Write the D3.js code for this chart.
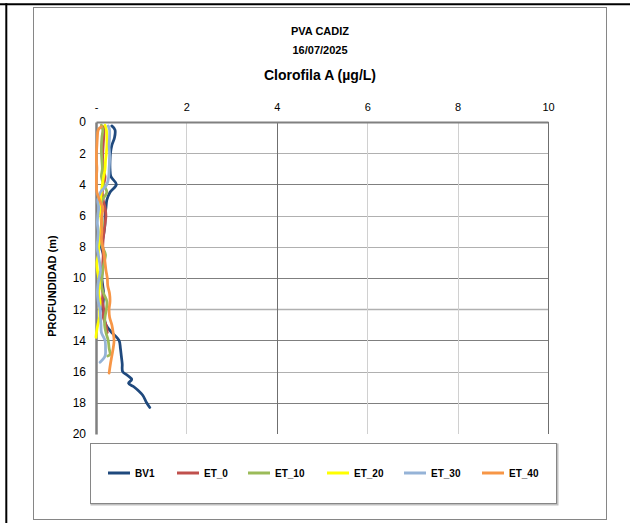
<!DOCTYPE html>
<html><head><meta charset="utf-8">
<script src="https://cdn.jsdelivr.net/npm/d3@7/dist/d3.min.js"></script>
<style>body{margin:0;background:#fff}svg{display:block;font-family:"Liberation Sans",Arial,sans-serif}</style>
</head><body>
<svg id="c" width="630" height="523"></svg>
<script>
const titleLines = ["PVA CADIZ", "16/07/2025"];
const chartTitle = "Clorofila A (µg/L)";
const yTitle = "PROFUNDIDAD (m)";
const xTicks = [0, 2, 4, 6, 8, 10];
const yTicks = [0, 2, 4, 6, 8, 10, 12, 14, 16, 18, 20];
const seriesNames = ["BV1", "ET_0", "ET_10", "ET_20", "ET_30", "ET_40"];
const seriesColors = ["#1F497D", "#C0504D", "#9BBB59", "#FFFF00", "#95B3D7", "#F79646"];

const depthBV1 = [0.25,0.5,1,1.5,2,2.5,3,3.5,4,4.5,5,5.5,6,6.5,7,7.5,8,8.5,9,9.5,10,10.5,11,11.5,12,12.5,13,13.5,14,14.5,15,15.5,16,16.25,16.5,16.75,17,17.5,18,18.3];
const valBV1   = [0.35,0.42,0.41,0.35,0.32,0.31,0.31,0.33,0.45,0.31,0.24,0.22,0.2,0.2,0.18,0.15,0.12,0.16,0.17,0.14,0.13,0.15,0.17,0.16,0.15,0.18,0.22,0.35,0.51,0.54,0.56,0.58,0.59,0.7,0.79,0.72,0.85,1.03,1.12,1.19];

const depthET0 = [0.3,1,2,3,3.5,4,4.5,5,5.5,6,6.5,7,7.5,8,8.5,9,9.5,10,10.5,11,11.5,12,12.5,13,13.5];
const valET0   = [0.18,0.17,0.15,0.15,0.2,0.17,0.14,0.16,0.2,0.22,0.2,0.18,0.16,0.15,0.16,0.15,0.14,0.12,0.13,0.15,0.14,0.17,0.16,0.22,0.25];

const depthET10 = [0.2,0.5,1,1.5,2,2.5,3,3.5,4,4.5,5,5.5,6,6.5,7,7.5,8,8.5,9,9.5,10,10.5,11,11.5,12,12.5,13,13.5,14,14.5,14.9,15.0];
const valET10   = [0.12,0.15,0.13,0.12,0.12,0.13,0.14,0.12,0.17,0.24,0.14,0.1,0.12,0.14,0.12,0.1,0.14,0.21,0.18,0.15,0.13,0.12,0.17,0.24,0.23,0.2,0.19,0.22,0.27,0.29,0.31,0.26];

const depthET20 = [0.2,0.5,1,1.5,2,2.5,3,3.5,4,4.5,5,5.5,6,6.5,7,7.5,8,8.5,9,9.5,10,10.5,11,11.5,12,12.5,13,13.5,13.8];
const valET20   = [0.2,0.23,0.24,0.24,0.23,0.21,0.2,0.17,0.14,0.12,0.1,0.08,0.1,0.12,0.1,0.08,0.06,0.05,0.02,0.03,0.06,0.08,0.06,0.09,0.08,0.08,0.04,0.01,0.0];

const depthET30 = [0.25,0.5,1,1.5,2,2.5,3,3.5,4,4.5,5,5.5,6,6.5,7,7.5,8,8.5,9,9.5,10,10.5,11,11.5,12,12.5,13,13.5,14,14.5,15,15.4];
const valET30   = [0.27,0.3,0.3,0.29,0.3,0.3,0.29,0.28,0.24,0.1,0.04,0.06,0.04,0.03,0.05,0.04,0.02,0.05,0.08,0.1,0.07,0.04,0.03,0.05,0.09,0.1,0.11,0.12,0.2,0.21,0.2,0.09];

const depthET40 = [0.3,0.5,1,1.5,2,2.5,3,3.5,4,4.5,5,5.5,6,6.5,7,7.5,8,8.5,9,9.5,10,10.5,11,11.5,12,12.5,13,13.5,14,14.5,15,15.5,16.1];
const valET40   = [0.12,0.05,0.03,0.02,0.01,0.01,0.02,0.01,0.01,0.02,0.08,0.15,0.13,0.12,0.13,0.12,0.15,0.18,0.2,0.22,0.25,0.26,0.3,0.31,0.29,0.3,0.35,0.38,0.4,0.38,0.35,0.32,0.29];

const series = [
  {name: seriesNames[0], color: seriesColors[0], depth: depthBV1, val: valBV1},
  {name: seriesNames[1], color: seriesColors[1], depth: depthET0, val: valET0},
  {name: seriesNames[2], color: seriesColors[2], depth: depthET10, val: valET10},
  {name: seriesNames[3], color: seriesColors[3], depth: depthET20, val: valET20},
  {name: seriesNames[4], color: seriesColors[4], depth: depthET30, val: valET30},
  {name: seriesNames[5], color: seriesColors[5], depth: depthET40, val: valET40}
];

const svg = d3.select("#c");
// page decorations
svg.append("line").attr("x1",0).attr("x2",630).attr("y1",4.3).attr("y2",4.3).attr("stroke","#000").attr("stroke-width",2);
svg.append("line").attr("x1",6.3).attr("x2",6.3).attr("y1",3.3).attr("y2",523).attr("stroke","#000").attr("stroke-width",2);
// chart frame
svg.append("rect").attr("x",33.5).attr("y",7.5).attr("width",573).attr("height",512).attr("fill","#fff").attr("stroke","#868686").attr("stroke-width",1);

// titles
svg.append("text").attr("x",320).attr("y",35).attr("text-anchor","middle").attr("font-weight","bold").attr("font-size",11).text(titleLines[0]);
svg.append("text").attr("x",320).attr("y",54).attr("text-anchor","middle").attr("font-weight","bold").attr("font-size",11).text(titleLines[1]);
svg.append("text").attr("x",320).attr("y",80).attr("text-anchor","middle").attr("font-weight","bold").attr("font-size",14).text(chartTitle);

const x = d3.scaleLinear().domain([0,10]).range([96,548]);
const y = d3.scaleLinear().domain([0,20]).range([122,434]);

// gridlines
const darkY = new Set([4,10,14,18]);
const darkX = new Set([4,10]);
svg.append("g").selectAll("line").data(yTicks.filter(d=>d>0 && d<20)).join("line")
  .attr("x1",x(0)).attr("x2",x(10)).attr("y1",d=>Math.round(y(d))+0.5).attr("y2",d=>Math.round(y(d))+0.5)
  .attr("stroke",d=>darkY.has(d)?"#7f7f7f":"#b0b0b0").attr("stroke-width",d=>d===12?1.5:1);
svg.append("g").selectAll("line").data(xTicks.filter(d=>d>0)).join("line")
  .attr("x1",d=>Math.round(x(d))+0.5).attr("x2",d=>Math.round(x(d))+0.5).attr("y1",y(0)).attr("y2",y(20))
  .attr("stroke",d=>darkX.has(d)?"#6f6f6f":"#d0d0d0").attr("stroke-width",1);

// axes
const xAxis = d3.axisTop(x).tickValues(xTicks).tickSize(0).tickPadding(11).tickFormat(d=>d===0?"-":d);
const gx = svg.append("g").attr("transform",`translate(0,${y(0)})`).call(xAxis);
gx.select(".domain").attr("stroke","#808080").attr("stroke-width",2);
gx.selectAll("text").attr("font-size",11).attr("fill","#000").attr("font-family","Liberation Sans, Arial, sans-serif");

const yAxis = d3.axisLeft(y).tickValues(yTicks).tickSize(0).tickPadding(10);
const gy = svg.append("g").attr("transform",`translate(${x(0)},0)`).call(yAxis);
gy.select(".domain").attr("stroke","#808080").attr("stroke-width",2.5);
gy.selectAll("text").attr("font-size",12).attr("fill","#000").attr("font-family","Liberation Sans, Arial, sans-serif");

svg.append("text").attr("transform","translate(56,286) rotate(-90)").attr("text-anchor","middle")
  .attr("font-weight","bold").attr("font-size",11).text(yTitle);

// lines
const line = d3.line().x(d=>x(d[1])).y(d=>y(d[0])).curve(d3.curveCatmullRom.alpha(0.5));
svg.append("g").selectAll("path").data(series).join("path")
  .attr("d",s=>line(s.depth.map((dd,i)=>[dd,s.val[i]])))
  .attr("fill","none").attr("stroke",s=>s.color).attr("stroke-width",2.75).attr("stroke-linejoin","round").attr("stroke-linecap","round");

// legend
svg.append("rect").attr("x",91.5).attr("y",444.5).attr("width",466).attr("height",60).attr("fill","none").attr("stroke","#c0c0c0").attr("stroke-width",2);
svg.append("rect").attr("x",90.5).attr("y",443.5).attr("width",466).attr("height",60).attr("fill","#fff").attr("stroke","#868686").attr("stroke-width",1);
const legX = [108, 177, 248, 327, 404, 482];
const lg = svg.append("g").selectAll("g").data(series).join("g").attr("transform",(s,i)=>`translate(${legX[i]},473)`);
lg.append("line").attr("x1",0).attr("x2",22).attr("stroke",s=>s.color).attr("stroke-width",3);
lg.append("text").attr("x",27).attr("y",4).attr("font-size",10).attr("font-weight","bold").text(s=>s.name);
</script>
</body></html>
